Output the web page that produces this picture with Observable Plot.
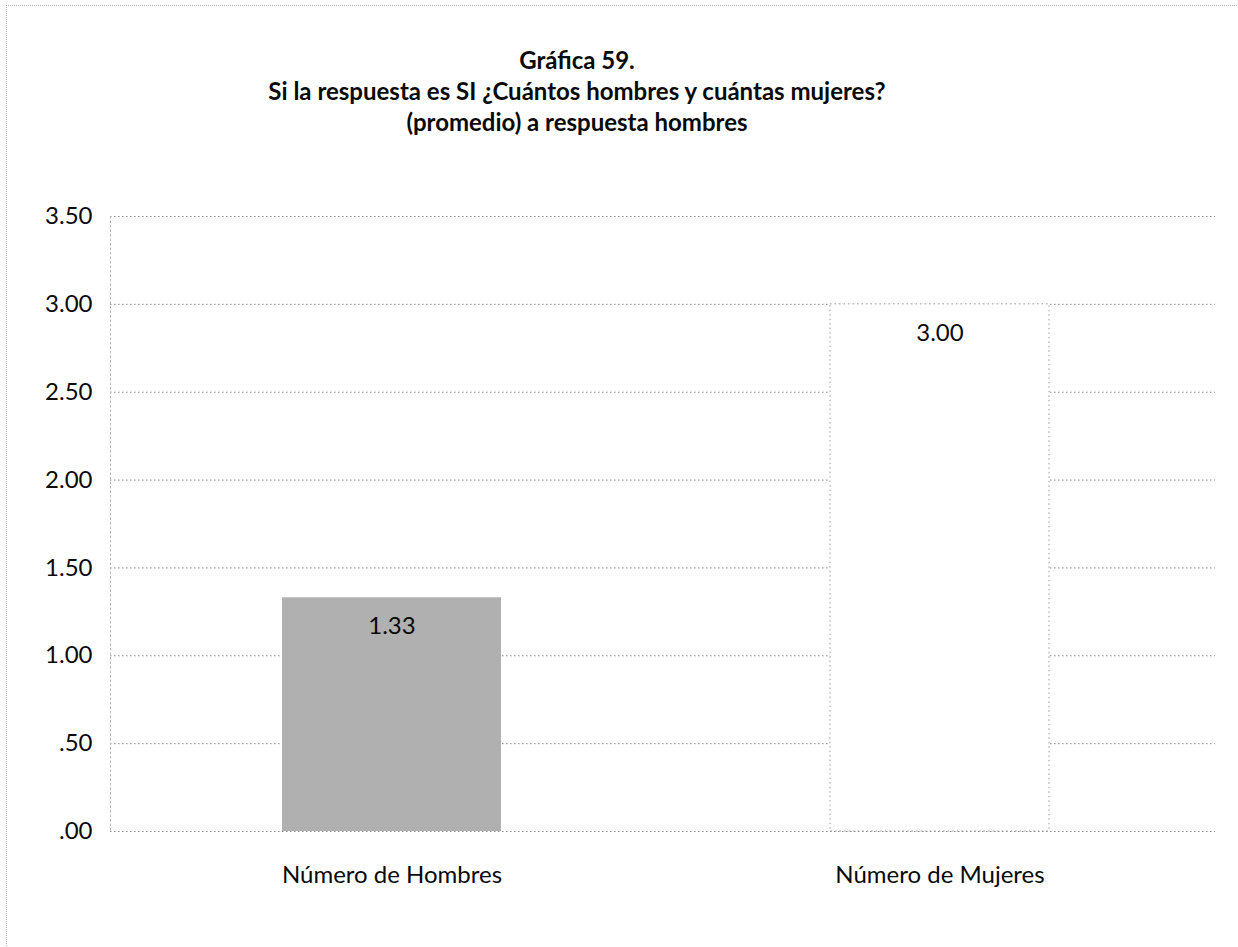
<!DOCTYPE html>
<html>
<head>
<meta charset="utf-8">
<script src="https://cdn.jsdelivr.net/npm/d3@7"></script>
<script src="https://cdn.jsdelivr.net/npm/@observablehq/plot@0.6"></script>
<style>
  html, body { margin: 0; padding: 0; background: #fff; }
  #wrap { position: relative; width: 1238px; height: 947px; overflow: hidden; font-family: Lato, "Open Sans", sans-serif; }
  #border { position: absolute; left: 6px; top: 5px; width: 1300px; height: 1000px; border-top: 1px dotted #b0b0b0; border-left: 1px dotted #b0b0b0; pointer-events: none; }
  #title { height: 150px; box-sizing: border-box; padding-top: 44px; text-align: center; font-weight: bold; font-size: 24px; line-height: 31px; color: #0a0a0a; width: 1154px; }
  #chart svg { display: block; }
</style>
</head>
<body>
<div id="wrap">
  <div id="border"></div>
  <div id="title"></div>
  <div id="chart"></div>
</div>
<script>
const categorias = ["Número de Hombres", "Número de Mujeres"];
const promedios = [1.33, 3.00];
const etiquetas = ["1.33", "3.00"];
const ticksY = [0, 0.5, 1, 1.5, 2, 2.5, 3, 3.5];
const tituloLineas = [
  "Gráfica 59.",
  "Si la respuesta es SI ¿Cuántos hombres y cuántas mujeres?",
  "(promedio) a respuesta hombres"
];

const titleEl = document.getElementById("title");
tituloLineas.forEach(t => {
  const d = document.createElement("div");
  d.textContent = t;
  titleEl.appendChild(d);
});

const datos = categorias.map((c, i) => ({categoria: c, valor: promedios[i], etiqueta: etiquetas[i]}));
const fmt = d => d3.format(".2f")(d).replace(/^0\./, ".");

const chart = Plot.plot({
  width: 1238,
  height: 797,
  marginTop: 66,
  marginBottom: 116,
  marginLeft: 110,
  marginRight: 23,
  style: {fontFamily: "Lato, 'Open Sans', sans-serif", fontSize: "24px", color: "#0a0a0a", background: "transparent"},
  x: {domain: categorias, range: [107, 1225], paddingInner: 0.6, paddingOuter: 0.32},
  y: {domain: [0, 3.5]},
  color: {domain: categorias, range: ["#b0b0b0", "#ffffff"]},
  marks: [
    Plot.ruleY(ticksY, {stroke: "#8a8a8a", strokeDasharray: "1.5,2.5", strokeWidth: 1}),
    Plot.frame({anchor: "left", stroke: "#b5b5b5", strokeDasharray: "1.5,3"}),
    Plot.barY(datos, {filter: d => d.categoria === categorias[0], x: "categoria", y: "valor", fill: "categoria"}),
    Plot.barY(datos, {filter: d => d.categoria === categorias[1], x: "categoria", y: "valor", fill: "categoria", stroke: "#9a9a9a", strokeDasharray: "1.5,3", strokeWidth: 1}),
    Plot.text(datos, {x: "categoria", y: "valor", text: "etiqueta", dy: 29, fontSize: 24, fill: "#0a0a0a"}),
    Plot.axisY({ticks: ticksY, tickFormat: fmt, tickSize: 0, tickPadding: 18, label: null, fontSize: 24}),
    Plot.axisX({tickSize: 0, tickPadding: 34, label: null, fontSize: 24})
  ]
});
document.getElementById("chart").appendChild(chart);
</script>
</body>
</html>
